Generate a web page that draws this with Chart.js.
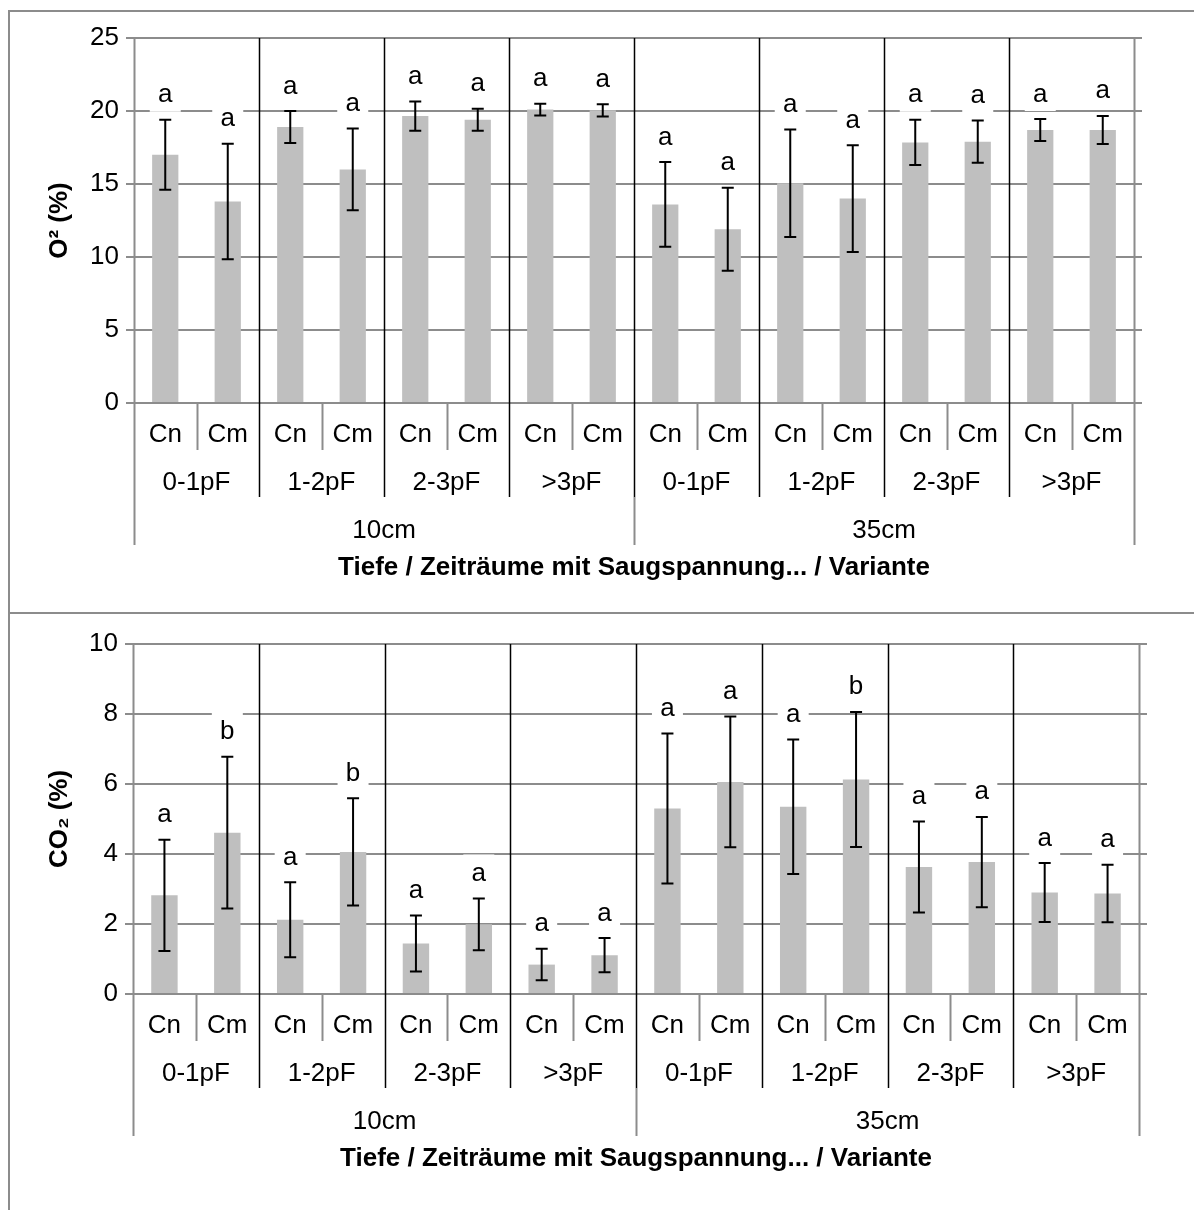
<!DOCTYPE html>
<html>
<head>
<meta charset="utf-8">
<script src="https://cdn.jsdelivr.net/npm/chart.js@4.4.1/dist/chart.umd.min.js"></script>
<style>
  html, body { margin: 0; padding: 0; background: #fff; overflow: hidden; }
  #frame { position: absolute; left: 8px; top: 10px; width: 1400px; height: 1400px; border-left: 2px solid #8c8c8c; border-top: 2px solid #8c8c8c; }
  #divider { position: absolute; left: 8px; top: 612px; width: 1400px; border-top: 2px solid #8c8c8c; }
  .box { position: absolute; left: 0; width: 1194px; }
  #top { top: 0; height: 612px; }
  #bottom { top: 612px; height: 598px; }
</style>
</head>
<body>
<div id="frame"></div>
<div id="divider"></div>
<div class="box" id="top"><canvas id="o2Chart"></canvas></div>
<div class="box" id="bottom"><canvas id="co2Chart"></canvas></div>
<script>
// categories (innermost first)
const variants = ['Cn', 'Cm'];
const periods = ['0-1pF', '1-2pF', '2-3pF', '>3pF'];
const depths = ['10cm', '35cm'];

// O2 (%) means, standard deviations, significance letters
const o2Mean = [17.0, 13.8, 18.9, 16.0, 19.65, 19.4, 20.1, 20.05, 13.6, 11.9, 15.05, 14.0, 17.85, 17.9, 18.7, 18.7];
const o2Sd = [2.4, 3.95, 1.1, 2.8, 1.0, 0.75, 0.4, 0.42, 2.9, 2.85, 3.68, 3.65, 1.55, 1.45, 0.75, 0.96];
const o2Letters = ['a', 'a', 'a', 'a', 'a', 'a', 'a', 'a', 'a', 'a', 'a', 'a', 'a', 'a', 'a', 'a'];

// CO2 (%)
const co2Mean = [2.82, 4.61, 2.12, 4.06, 1.44, 1.99, 0.84, 1.11, 5.3, 6.06, 5.35, 6.13, 3.63, 3.77, 2.9, 2.87];
const co2Sd = [1.59, 2.17, 1.07, 1.53, 0.8, 0.74, 0.45, 0.49, 2.14, 1.87, 1.92, 1.93, 1.3, 1.29, 0.84, 0.82];
const co2Letters = ['a', 'b', 'a', 'b', 'a', 'a', 'a', 'a', 'a', 'a', 'a', 'b', 'a', 'a', 'a', 'a'];

// y axis ticks
const o2Ticks = { max: 25, step: 5 };
const co2Ticks = { max: 10, step: 2 };

const xTitle = 'Tiefe / Zeiträume mit Saugspannung... / Variante';

const FONT = '"Liberation Sans", Arial, sans-serif';
const GRID = '#8c8c8c';
Chart.defaults.font.family = FONT;
Chart.defaults.color = '#000';

const labels = [];
depths.forEach(d => periods.forEach(p => variants.forEach(v => labels.push([v, p, d]))));

function makeDecor(mean, sd, letters, yTitle) {
  return {
    id: 'decor',
    beforeDatasetsDraw(chart) {
      const { ctx, chartArea: a, scales: { x } } = chart;
      const n = labels.length;
      const edge = i => i === 0 ? a.left : i === n ? a.right : (x.getPixelForValue(i - 1) + x.getPixelForValue(i)) / 2;
      ctx.save();
      ctx.lineWidth = 1.5;
      for (let i = 0; i <= n; i++) {
        const bx = Math.round(edge(i)) + 0.5;
        ctx.beginPath();
        if (i === 0 || i === n) {
          ctx.strokeStyle = GRID; ctx.lineWidth = 2;
          ctx.moveTo(bx, a.top); ctx.lineTo(bx, a.bottom + 142);
        } else if (i % 2 === 1) {
          ctx.strokeStyle = GRID; ctx.lineWidth = 2;
          ctx.moveTo(bx, a.bottom); ctx.lineTo(bx, a.bottom + 47);
        } else {
          ctx.strokeStyle = '#000'; ctx.lineWidth = 1.5;
          ctx.moveTo(bx, a.top); ctx.lineTo(bx, a.bottom + 94);
          if (i === n / 2) {
            ctx.stroke(); ctx.beginPath();
            ctx.strokeStyle = GRID; ctx.lineWidth = 2;
            ctx.moveTo(bx, a.bottom + 94); ctx.lineTo(bx, a.bottom + 142);
          }
        }
        ctx.stroke();
      }
      ctx.restore();
    },
    afterDatasetsDraw(chart) {
      const { ctx, chartArea: a, scales: { x, y } } = chart;
      const n = labels.length;
      ctx.save();
      // right extension of horizontal gridlines
      ctx.strokeStyle = GRID; ctx.lineWidth = 2;
      y.ticks.forEach(t => {
        const py = Math.round(y.getPixelForValue(t.value));
        ctx.beginPath(); ctx.moveTo(a.right, py); ctx.lineTo(a.right + 8, py); ctx.stroke();
      });
      // error bars + letters
      for (let i = 0; i < n; i++) {
        const cx = x.getPixelForValue(i);
        const yTop = y.getPixelForValue(mean[i] + sd[i]);
        const yBot = y.getPixelForValue(mean[i] - sd[i]);
        ctx.strokeStyle = '#000'; ctx.lineWidth = 2;
        ctx.beginPath();
        ctx.moveTo(cx, yTop); ctx.lineTo(cx, yBot);
        ctx.moveTo(cx - 6, yTop); ctx.lineTo(cx + 6, yTop);
        ctx.moveTo(cx - 6, yBot); ctx.lineTo(cx + 6, yBot);
        ctx.stroke();
        ctx.fillStyle = '#fff';
        ctx.fillRect(cx - 15.5, yTop - 44, 31, 36);
        ctx.fillStyle = '#000';
        ctx.font = '26px ' + FONT;
        ctx.textAlign = 'center'; ctx.textBaseline = 'alphabetic';
        ctx.fillText(letters[i], cx, yTop - 17.5);
      }
      // multi-level category labels
      ctx.font = '26px ' + FONT;
      ctx.textAlign = 'center'; ctx.textBaseline = 'middle';
      for (let i = 0; i < n; i++) {
        ctx.fillText(labels[i][0], x.getPixelForValue(i), a.bottom + 32);
      }
      for (let g = 0; g < n / 2; g++) {
        const cx = (x.getPixelForValue(2 * g) + x.getPixelForValue(2 * g + 1)) / 2;
        ctx.fillText(labels[2 * g][1], cx, a.bottom + 80);
      }
      for (let d = 0; d < 2; d++) {
        const cx = (x.getPixelForValue(d * 8) + x.getPixelForValue(d * 8 + 7)) / 2;
        ctx.fillText(labels[d * 8][2], cx, a.bottom + 128);
      }
      // axis titles
      ctx.font = 'bold 26px ' + FONT;
      ctx.fillText(xTitle, (a.left + a.right) / 2, a.bottom + 165);
      ctx.translate(60, (a.top + a.bottom) / 2);
      ctx.rotate(-Math.PI / 2);
      ctx.fillText(yTitle, 0, 0);
      ctx.restore();
    }
  };
}

function makeChart(id, mean, sd, letters, ticks, yTitle, area) {
  new Chart(document.getElementById(id).getContext('2d'), {
    type: 'bar',
    data: {
      labels: labels.map(l => l.join(' ')),
      datasets: [{
        data: mean,
        backgroundColor: '#bfbfbf',
        borderWidth: 0,
        barPercentage: 0.42,
        categoryPercentage: 1.0,
      }],
    },
    options: {
      responsive: true,
      maintainAspectRatio: false,
      animation: false,
      devicePixelRatio: 1,
      layout: { padding: { left: 0, top: area.top, right: area.right, bottom: area.bottom } },
      plugins: { legend: { display: false }, tooltip: { enabled: false } },
      scales: {
        x: { type: 'category', display: false },
        y: {
          min: 0,
          max: ticks.max,
          afterFit: s => { s.width = area.left; },
          ticks: { stepSize: ticks.step, font: { size: 26 }, color: '#000', padding: 7 },
          grid: { color: GRID, lineWidth: 2, tickLength: 8, drawTicks: true },
          border: { display: false },
        },
      },
    },
    plugins: [makeDecor(mean, sd, letters, yTitle)],
  });
}

makeChart('o2Chart', o2Mean, o2Sd, o2Letters, o2Ticks, 'O² (%)', { left: 134, top: 38, right: 60, bottom: 209 });
makeChart('co2Chart', co2Mean, co2Sd, co2Letters, co2Ticks, 'CO₂ (%)', { left: 133, top: 32, right: 55, bottom: 216 });
</script>
</body>
</html>
